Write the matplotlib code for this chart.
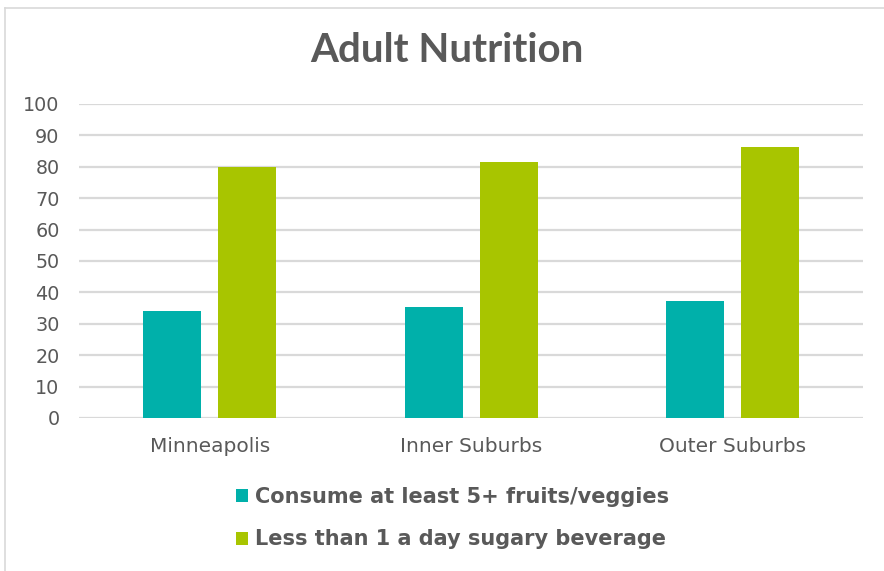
import matplotlib.pyplot as plt
import numpy as np

# data
categories = ['Minneapolis', 'Inner Suburbs', 'Outer Suburbs']
fruits_veggies = [34, 35.3, 37.2]
sugary_bev = [80, 81.4, 86.2]
series_names = ['Consume at least 5+ fruits/veggies',
                'Less than 1 a day sugary beverage']
yticks = list(range(0, 101, 10))

teal = '#00B0AA'
green = '#A8C500'
text_col = '#595959'

plt.rcParams['font.family'] = ['DejaVu Sans']

fig = plt.figure(figsize=(8.84, 5.71), dpi=100)
ax = fig.add_axes([0.0894, 0.268, 0.887, 0.55])

x = np.arange(len(categories))
w = 0.222
off = 0.1434
b1 = ax.bar(x - off, fruits_veggies, w, color=teal, zorder=3, label=series_names[0])
b2 = ax.bar(x + off, sugary_bev, w, color=green, zorder=3, label=series_names[1])

ax.set_xlim(-0.5, len(categories) - 0.5)
ax.set_ylim(0, 100)
ax.set_yticks(yticks)
ax.set_xticks(x)
ax.set_xticklabels(categories)
ax.yaxis.grid(True, color='#D9D9D9', linewidth=1.6, zorder=0)
ax.tick_params(axis='both', length=0, colors=text_col)
ax.tick_params(axis='x', pad=14, labelsize=14.5)
ax.tick_params(axis='y', pad=14, labelsize=13.8)
for s in ax.spines.values():
    s.set_visible(False)

fig.text(0.506, 0.912, 'Adult Nutrition', ha='center', va='center',
         fontsize=29, fontweight='bold', color=text_col, family='Lato')

leg = fig.legend(handles=[b1, b2], loc='upper center', bbox_to_anchor=(0.512, 0.18),
                 ncol=1, frameon=False, handlelength=0.6, handleheight=0.6,
                 handletextpad=0.35, labelspacing=1.08, prop={'size': 15, 'weight': 'bold'})
for t in leg.get_texts():
    t.set_color(text_col)

# light frame around the chart, top and left edges
fig.add_artist(plt.Line2D([0.006, 1.0], [0.986, 0.986], color='#D9D9D9', lw=1.2,
                          transform=fig.transFigure))
fig.add_artist(plt.Line2D([0.006, 0.006], [0.0, 0.986], color='#D9D9D9', lw=1.2,
                          transform=fig.transFigure))

fig.savefig('out.png', dpi=100)
